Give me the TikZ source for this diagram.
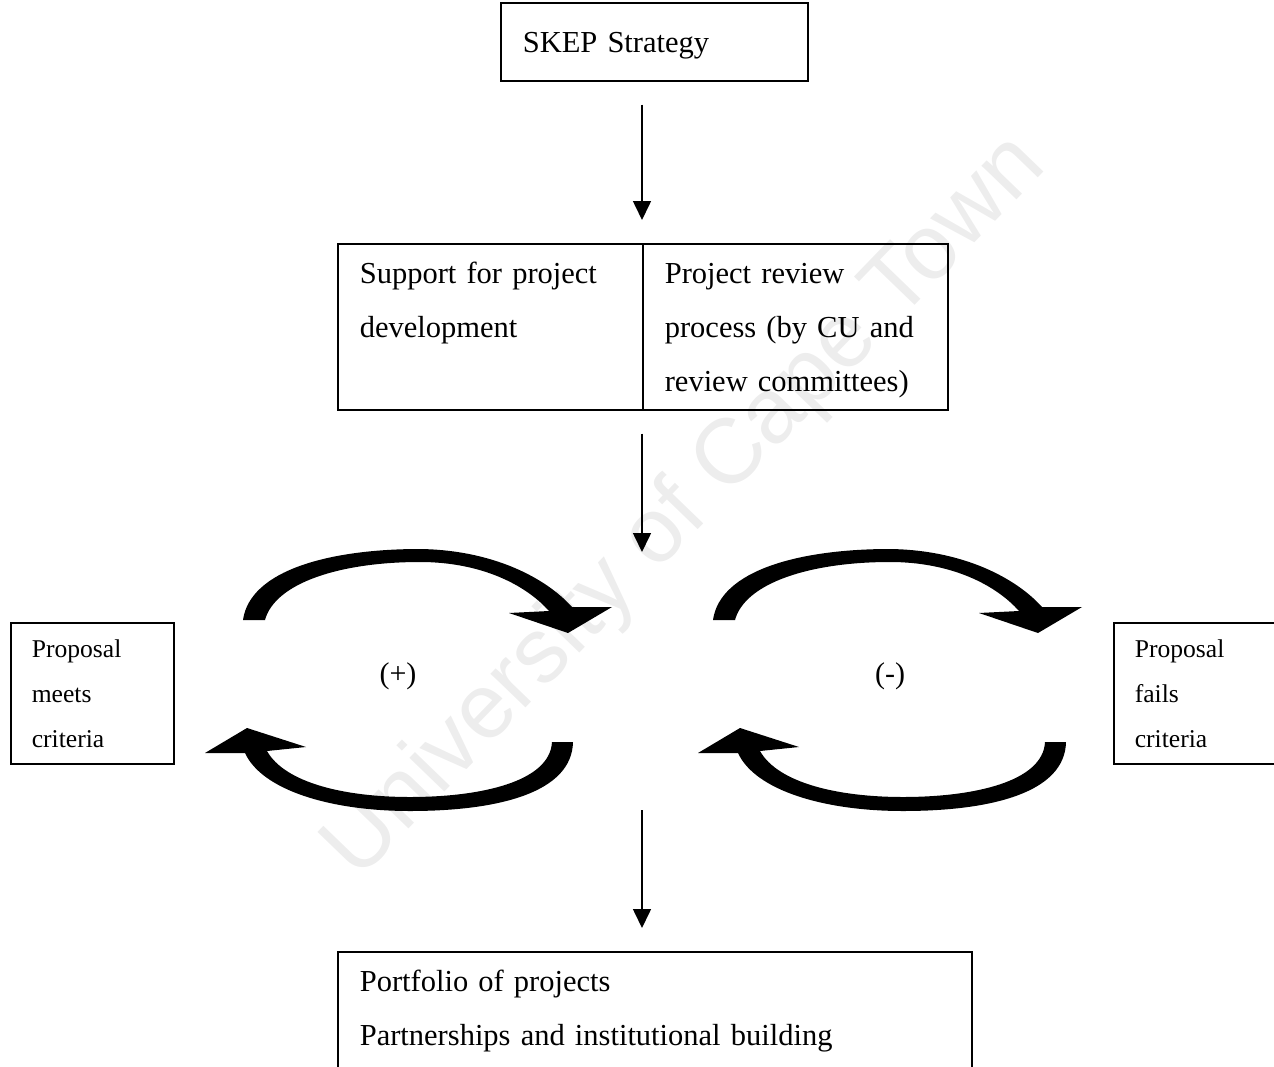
\documentclass[tikz,border=0pt]{standalone}
\usepackage{fontspec}
\setmainfont{Liberation Serif}
\newfontfamily\wmfont{Liberation Sans}
\usetikzlibrary{arrows.meta}
\begin{document}
\begin{tikzpicture}[x=1bp,y=-1bp,
  box/.style={draw, line width=1.6bp, rectangle, anchor=north west, inner xsep=22bp, inner ysep=0pt, align=left},
  bigtext/.style={font=\fontsize{30.5bp}{54.2bp}\selectfont},
  smalltext/.style={font=\fontsize{25.6bp}{45.2bp}\selectfont},
  conn/.style={line width=1.6bp, -{Triangle[width=18bp,length=19bp]}},
  loopband/.style={fill=black}]
\clip (0,0) rectangle (1274,1067);
% watermark
\node[text=black!7, font=\wmfont\fontsize{92bp}{92bp}\selectfont, rotate=46] (wm) at (686,508) {University of Cape Town};
% boxes
\node[box,bigtext,minimum width=307bp,minimum height=78bp,text width=263bp] (skep) at (500,2) {\strut SKEP Strategy};
\node[box,bigtext,minimum width=305bp,minimum height=166bp,text width=261bp] (support) at (337,243) {\strut Support for project\\development\\\strut};
\node[box,bigtext,minimum width=305bp,minimum height=166bp,text width=261bp] (review) at (642,243) {\strut Project review\\process (by CU and\\review committees)\strut};
\node[box,smalltext,minimum width=163bp,minimum height=141bp,text width=121bp,inner xsep=21bp] (meets) at (10,622) {\strut Proposal\\meets\\criteria\strut};
\node[box,smalltext,minimum width=163bp,minimum height=141bp,text width=121bp,inner xsep=21bp] (fails) at (1113,622) {\strut Proposal\\fails\\criteria\strut};
\node[box,bigtext,minimum width=634bp,minimum height=166bp,text width=590bp] (portfolio) at (337,951) {\strut Portfolio of projects\\Partnerships and institutional building\\\strut};
% loop labels
\node[font=\fontsize{30bp}{36bp}\selectfont] (plus) at (398,676) {(+)};
\node[font=\fontsize{30bp}{36bp}\selectfont] (minus) at (890,676) {(-)};
% connectors
\coordinate (loopin) at (642,552);
\coordinate (loopout) at (642,810);
\draw[conn] ([yshift=-23bp]skep.south -| review.west) -- ([yshift=23bp]review.north west);
\draw[conn] ([yshift=-23bp]review.south west) -- (loopin);
\draw[conn] (loopout) -- ([yshift=23bp]portfolio.north west -| review.west);
% curved loop arrows
\foreach \dx/\ex in {0/0, 470/493} {
  \begin{scope}[xshift=\dx bp]
    \fill[loopband] (243,620) .. controls (250,570) and (330,549) .. (420,549)
      .. controls (493,550) and (546,578) .. (572,607) -- (612,607) -- (568,633) -- (509,613) -- (549,611)
      .. controls (525,584) and (480,562) .. (420,562)
      .. controls (340,562) and (275,583) .. (265,620) -- cycle;
  \end{scope}
  \begin{scope}[xshift=\ex bp]
    \fill[loopband] (573,742) .. controls (572,792) and (500,811) .. (410,811)
      .. controls (330,811) and (262,790) .. (245,753) -- (205,753) -- (247,728) -- (306,747) -- (267,751)
      .. controls (285,783) and (345,797) .. (410,797)
      .. controls (480,797) and (550,782) .. (552,742) -- cycle;
  \end{scope}
}
\end{tikzpicture}
\end{document}
